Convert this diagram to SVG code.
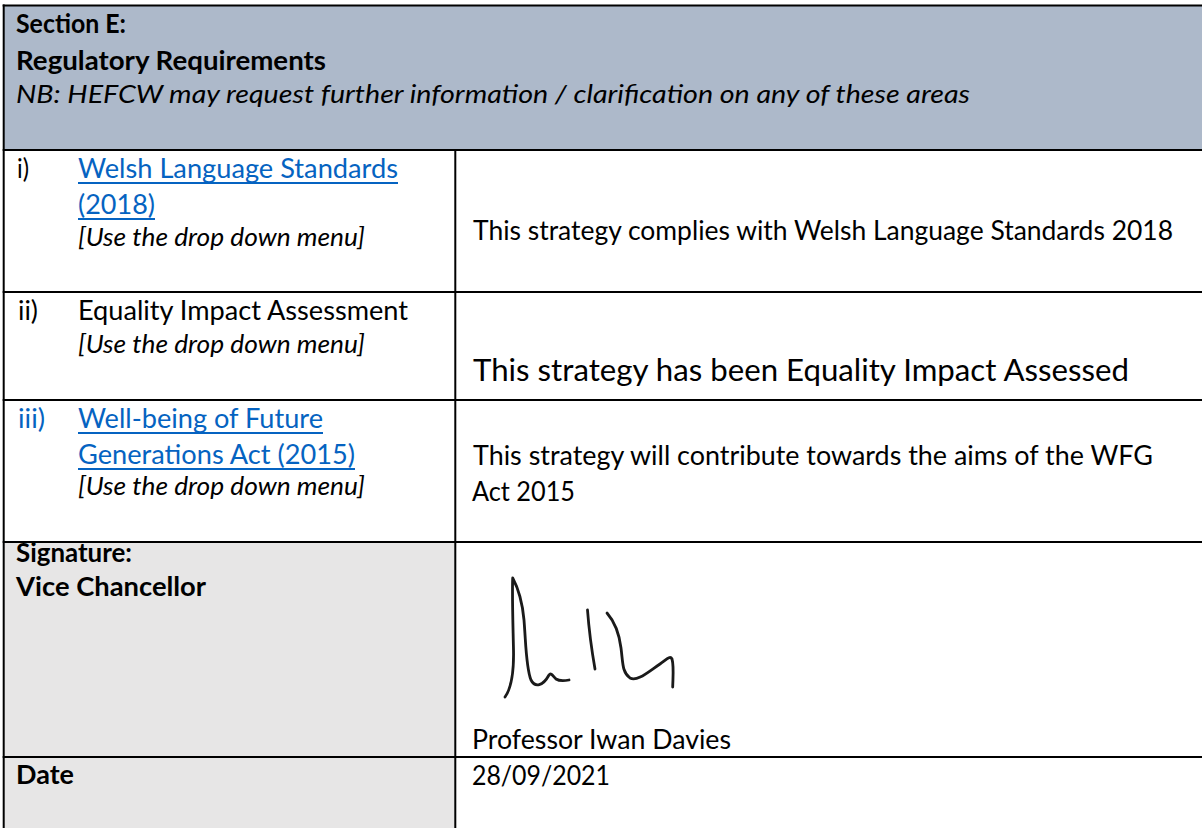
<svg xmlns="http://www.w3.org/2000/svg" width="1202" height="828" viewBox="0 0 1202 828">
  <style>
    text { font-family: Lato, "Open Sans", "Liberation Sans", sans-serif; font-size: 26px; fill: #000; }
    .b { font-weight: bold; }
    .i { font-style: italic; font-size: 26px; }
    .big { font-size: 30px; }
    .link { fill: #0563C1; }
    .ul { stroke: #0563C1; stroke-width: 1.8; }
    .grid { stroke: #000; stroke-width: 2; fill: none; }
    .sig { stroke: #1a1a1a; stroke-width: 2.8; fill: none; stroke-linecap: round; stroke-linejoin: round; }
  </style>
  <rect x="0" y="0" width="1202" height="828" fill="#fff"/>

  <g id="header">
    <rect x="4" y="5" width="1198" height="145" fill="#ADB9CA"/>
    <text class="b" x="16" y="33" textLength="110" lengthAdjust="spacingAndGlyphs">Section E:</text>
    <text class="b" x="16" y="70" textLength="310" lengthAdjust="spacingAndGlyphs">Regulatory Requirements</text>
    <text class="i" x="16" y="103" textLength="954" lengthAdjust="spacingAndGlyphs">NB: HEFCW may request further information / clarification on any of these areas</text>
  </g>

  <g id="row-welsh-label">
    <text x="17" y="178" textLength="12" lengthAdjust="spacingAndGlyphs">i)</text>
    <text class="link" x="78" y="178" textLength="320" lengthAdjust="spacingAndGlyphs">Welsh Language Standards</text>
    <line class="ul" x1="78" y1="183" x2="398" y2="183"/>
    <text class="link" x="78" y="214" textLength="77" lengthAdjust="spacingAndGlyphs">(2018)</text>
    <line class="ul" x1="78" y1="219" x2="155" y2="219"/>
    <text class="i" x="78" y="246" textLength="287" lengthAdjust="spacingAndGlyphs">[Use the drop down menu]</text>
  </g>
  <g id="row-welsh-value">
    <text x="473" y="240" textLength="700" lengthAdjust="spacingAndGlyphs">This strategy complies with Welsh Language Standards 2018</text>
  </g>

  <g id="row-equality-label">
    <text x="18" y="320" textLength="20" lengthAdjust="spacingAndGlyphs">ii)</text>
    <text x="78" y="320" textLength="330" lengthAdjust="spacingAndGlyphs">Equality Impact Assessment</text>
    <text class="i" x="78" y="353" textLength="287" lengthAdjust="spacingAndGlyphs">[Use the drop down menu]</text>
  </g>
  <g id="row-equality-value">
    <text class="big" x="473" y="381" textLength="656" lengthAdjust="spacingAndGlyphs">This strategy has been Equality Impact Assessed</text>
  </g>

  <g id="row-wfg-label">
    <text class="link" x="18" y="428" textLength="27" lengthAdjust="spacingAndGlyphs">iii)</text>
    <text class="link" x="78" y="428" textLength="245" lengthAdjust="spacingAndGlyphs">Well-being of Future</text>
    <line class="ul" x1="78" y1="433" x2="323" y2="433"/>
    <text class="link" x="78" y="464" textLength="277" lengthAdjust="spacingAndGlyphs">Generations Act (2015)</text>
    <line class="ul" x1="78" y1="469" x2="355" y2="469"/>
    <text class="i" x="78" y="495" textLength="287" lengthAdjust="spacingAndGlyphs">[Use the drop down menu]</text>
  </g>
  <g id="row-wfg-value">
    <text x="473" y="465" textLength="680" lengthAdjust="spacingAndGlyphs">This strategy will contribute towards the aims of the WFG</text>
    <text x="472" y="501" textLength="103" lengthAdjust="spacingAndGlyphs">Act 2015</text>
  </g>

  <g id="row-signature-label">
    <rect x="4" y="542" width="451" height="286" fill="#E7E6E6"/>
    <text class="b" x="16" y="562" textLength="116" lengthAdjust="spacingAndGlyphs">Signature:</text>
    <text class="b" x="16" y="596" textLength="190" lengthAdjust="spacingAndGlyphs">Vice Chancellor</text>
  </g>
  <g id="row-signature-value">
    <path class="sig" d="M505,697 C510,690 514,675 513.5,650 C513,625 512,595 512.7,578 C517,586 522,598 524,620 C526,645 526,668 531,680 C535,688 543,686 549,675 C551,672 553,676 556,679 C559,681 564,681 569,680"/>
    <path class="sig" d="M587.5,610 C589,630 592,652 595,669"/>
    <path class="sig" d="M607,613 C614,621 619,632 621,648 C623,663 622,672 630,678 C637,682 648,672 660,664 C666,660 670,655 672,659 C674,666 673,676 672.7,687"/>
    <text x="472" y="749" textLength="259" lengthAdjust="spacingAndGlyphs">Professor Iwan Davies</text>
  </g>

  <g id="row-date-label">
    <text class="b" x="16" y="784" textLength="58" lengthAdjust="spacingAndGlyphs">Date</text>
  </g>
  <g id="row-date-value">
    <text x="472" y="785" textLength="138" lengthAdjust="spacingAndGlyphs">28/09/2021</text>
  </g>

  <g id="connectors">
    <line class="grid" x1="3.7" y1="4.5" x2="3.7" y2="828"/>
    <line class="grid" x1="2.7" y1="5.5" x2="1202" y2="5.5"/>
    <line class="grid" x1="2.7" y1="150" x2="1202" y2="150"/>
    <line class="grid" x1="455.3" y1="150" x2="455.3" y2="828"/>
    <line class="grid" x1="2.7" y1="292" x2="1202" y2="292"/>
    <line class="grid" x1="2.7" y1="400" x2="1202" y2="400"/>
    <line class="grid" x1="2.7" y1="542" x2="1202" y2="542"/>
    <line class="grid" x1="2.7" y1="757" x2="1202" y2="757"/>
  </g>
</svg>
